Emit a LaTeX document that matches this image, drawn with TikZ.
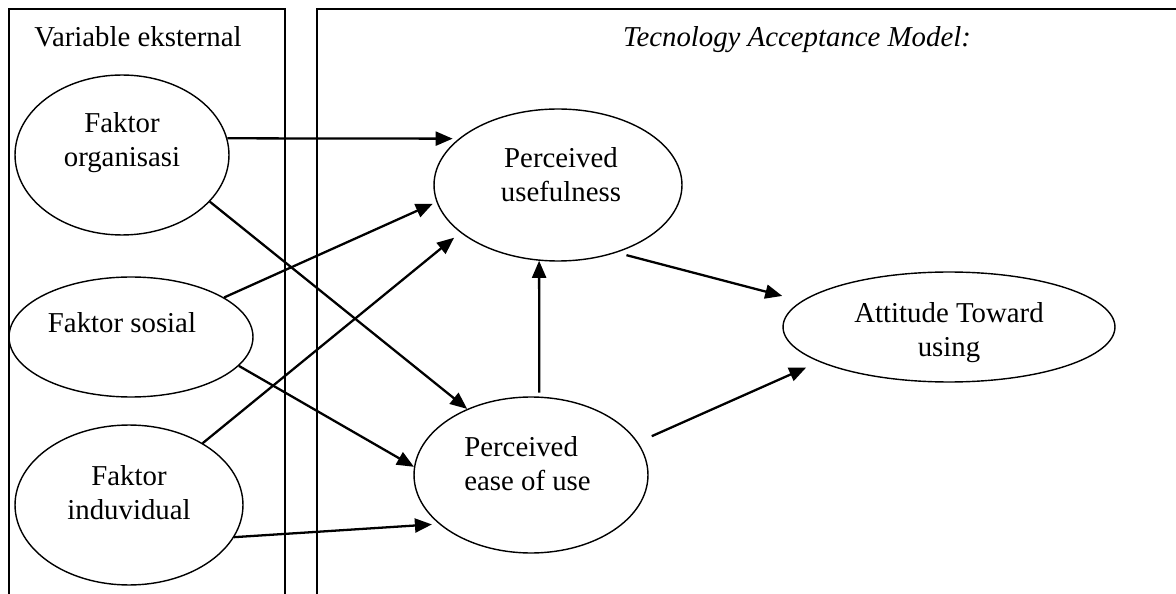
\documentclass[tikz,border=0pt]{standalone}
\usepackage{fontspec}
\setmainfont{Liberation Serif}
\usetikzlibrary{arrows.meta, shapes.geometric}

\begin{document}
\begin{tikzpicture}[x=0.02cm, y=-0.02cm]
    \tikzset{
        every node/.style={font=\fontsize{16.4}{19.4}\selectfont},
        kotak/.style={line width=0.8pt},
        faktor/.style={draw, ellipse, line width=0.8pt, inner sep=0pt},
        panah/.style={-{Triangle[length=0.34cm, width=0.28cm]}, line width=1.3pt},
        teks/.style={align=center}
    }
    \useasboundingbox (0,0) rectangle (1176,594);

    % 1. kotak kiri dan kanan (terbuka di bawah)
    \draw[kotak] (9,594) -- (9,9) -- (285,9) -- (285,594);
    \draw[kotak] (317,594) -- (317,9) -- (1176,9);

    % 2. judul kotak
    \node[anchor=base] (judulKiri) at (138,47) {Variable eksternal};
    \node[anchor=base, font=\fontsize{16.4}{19.4}\selectfont\itshape] (judulKanan) at (797,47) {Tecnology Acceptance Model:};

    % 3. variabel eksternal
    \node[faktor, minimum width=4.28cm, minimum height=3.2cm,
        label={[teks, yshift=0.24cm]center:{Faktor\\organisasi}}] (org) at (122,155) {};
    \node[faktor, minimum width=4.88cm, minimum height=2.4cm,
        label={[teks, xshift=-0.18cm, yshift=0.28cm]center:{Faktor sosial}}] (sos) at (131,337) {};
    \node[faktor, minimum width=4.56cm, minimum height=3.2cm,
        label={[teks, yshift=0.24cm]center:{Faktor\\induvidual}}] (ind) at (129,505) {};

    % 4. konstruk TAM
    \node[faktor, minimum width=4.96cm, minimum height=3.04cm,
        label={[teks, xshift=0.06cm, yshift=0.2cm]center:{Perceived\\usefulness}}] (PU) at (558,185) {};
    \node[faktor, minimum width=4.68cm, minimum height=3.12cm,
        label={[align=left, xshift=-0.07cm, yshift=0.22cm]center:{Perceived\\ease of use}}] (PEOU) at (531,475) {};
    \node[faktor, minimum width=6.64cm, minimum height=2.2cm,
        label={[teks, yshift=-0.12cm]center:{Attitude Toward\\using}}] (ATU) at (949,327) {};

    % 5. panah
    \draw[panah, shorten >=0.12cm] (org.9) -- (PU.155);
    \draw[panah] (org.-28) -- (PEOU.134);
    \draw[panah, shorten >=0.08cm] (sos.23) -- (PU.188);
    \draw[panah] (sos.-15) -- (PEOU.176);
    \draw[panah, shorten >=0.16cm] (ind.40) -- (PU.206);
    \draw[panah, shorten >=0.14cm] (ind.-17) -- (PEOU.208);
    \draw[panah, shorten <=0.08cm] (PEOU.84) -- (PU.256);
    \draw[panah, shorten <=0.2cm, shorten >=0.4cm] (PU.-49) -- (ATU.170);
    \draw[panah, shorten <=0.3cm, shorten >=0.28cm] (PEOU.17) -- (ATU.195);

\end{tikzpicture}
\end{document}
